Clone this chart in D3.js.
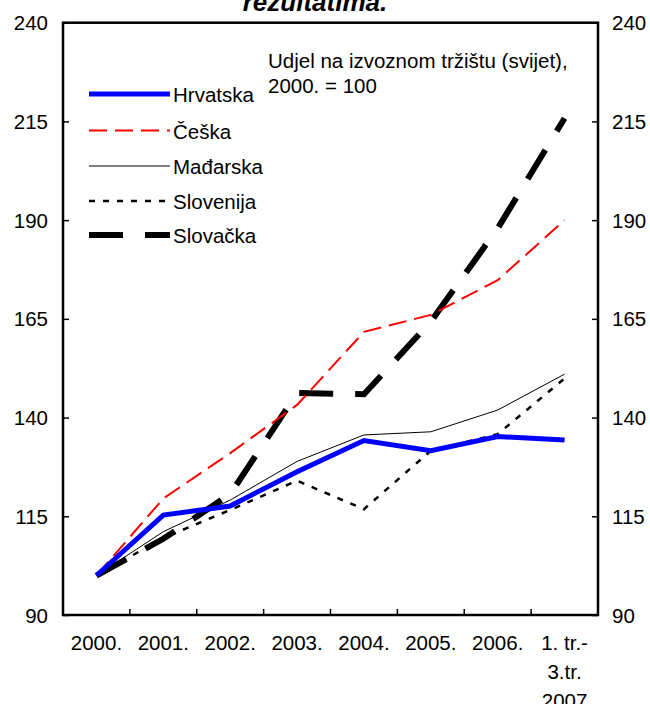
<!DOCTYPE html>
<html><head><meta charset="utf-8">
<script src="https://cdn.jsdelivr.net/npm/d3@7"></script>
<style>
body{margin:0;background:#fff;}
svg{display:block;font-family:"Liberation Sans",Arial,sans-serif;}
</style></head>
<body><svg id="c" width="650" height="704"></svg>
<script>
const categories = ["2000.", "2001.", "2002.", "2003.", "2004.", "2005.", "2006.", "1. tr.-|3.tr.|2007"];
const hrvatska  = [100, 115.3, 117.6, 126.3, 134.2, 131.6, 135.2, 134.3];
const ceska     = [100, 119.5, 131.0, 143.2, 161.7, 166.0, 174.8, 190.0];
const madarska  = [100, 111.1, 119.1, 128.9, 135.6, 136.4, 141.9, 151.0];
const slovenija = [100, 109.5, 116.6, 124.0, 116.8, 131.6, 135.8, 149.9];
const slovacka  = [100, 109.3, 120.6, 146.2, 145.9, 164.3, 187.9, 215.8];
const yTicks = [90, 115, 140, 165, 190, 215, 240];
const seriesNames = ["Hrvatska", "Češka", "Mađarska", "Slovenija", "Slovačka"];
const titleText = "rezultatima.";
const noteLines = ["Udjel na izvoznom tržištu (svijet),", "2000. = 100"];

const series = [
  {name: seriesNames[0], values: hrvatska, color: "#0000ff", width: 5, dash: null},
  {name: seriesNames[1], values: ceska, color: "#ff0000", width: 2, dash: "18,8"},
  {name: seriesNames[2], values: madarska, color: "#000", width: 1, dash: null},
  {name: seriesNames[3], values: slovenija, color: "#000", width: 2.5, dash: "6,8"},
  {name: seriesNames[4], values: slovacka, color: "#000", width: 6, dash: "34,22"}
];

const svg = d3.select("#c");
const L = 63, R = 598, T = 22.7, B = 615;
const x = d3.scaleBand().domain(categories).range([L, R]);
const y = d3.scaleLinear().domain([90, 240]).range([B, T]);
const fs = 20.5;

// title (cut off at top)
svg.append("text").attr("x", 315).attr("y", 11).attr("text-anchor", "middle")
  .attr("font-size", 26).attr("font-weight", "bold").attr("font-style", "italic").text(titleText);

// lines
const line = d3.line().x((d, i) => x(categories[i]) + x.bandwidth() / 2).y(d => y(d));
const order = [3, 2, 4, 1, 0];
order.forEach(k => {
  const s = series[k];
  svg.append("path").datum(s.values).attr("d", line).attr("fill", "none")
    .attr("stroke", s.color).attr("stroke-width", s.width)
    .attr("stroke-dasharray", s.dash).attr("stroke-linejoin", "miter");
});

// axes
const gl = svg.append("g").attr("transform", `translate(${L},0)`)
  .call(d3.axisRight(y).tickValues(yTicks).tickSize(6).tickFormat(""));
const gr = svg.append("g").attr("transform", `translate(${R},0)`)
  .call(d3.axisLeft(y).tickValues(yTicks).tickSize(6).tickFormat(""));
const gb = svg.append("g").attr("transform", `translate(0,${B})`)
  .call(d3.axisTop(x).tickSize(6).tickFormat(""));
gb.selectAll(".tick").remove();
const bounds = categories.slice(1).map(c => x(c));
gb.selectAll("line.bt").data(bounds).enter().append("line")
  .attr("x1", d => d).attr("x2", d => d).attr("y1", 0).attr("y2", -6)
  .attr("stroke", "#000").attr("stroke-width", 1.5);
[gl, gr, gb].forEach(g => { g.select(".domain").remove(); g.selectAll("line").attr("stroke", "#000").attr("stroke-width", 1.5); });

svg.append("rect").attr("x", L).attr("y", T).attr("width", R - L).attr("height", B - T)
  .attr("fill", "none").attr("stroke", "#000").attr("stroke-width", 2.5);

// y labels
svg.selectAll("text.yl").data(yTicks).enter().append("text")
  .attr("x", 48).attr("y", d => y(d) + 7.5).attr("text-anchor", "end").attr("font-size", fs).text(d => d);
svg.selectAll("text.yr").data(yTicks).enter().append("text")
  .attr("x", 612).attr("y", d => y(d) + 7.5).attr("text-anchor", "start").attr("font-size", fs).text(d => d);

// x labels
categories.forEach(c => {
  const parts = c.split("|");
  const cx = x(c) + x.bandwidth() / 2;
  const t = svg.append("text").attr("x", cx).attr("y", 650)
    .attr("text-anchor", "middle").attr("font-size", fs);
  parts.forEach((p, i) => t.append("tspan").attr("x", cx).attr("dy", i ? 29 : 0).text(p));
});

// note
noteLines.forEach((t, i) => svg.append("text").attr("x", 268).attr("y", 68 + i * 25).attr("font-size", fs).text(t));

// legend
const legY = [94, 130.5, 166, 201, 235];
series.forEach((s, i) => {
  svg.append("line").attr("x1", 89).attr("x2", 170).attr("y1", legY[i]).attr("y2", legY[i])
    .attr("stroke", s.color).attr("stroke-width", s.width).attr("stroke-dasharray", s.dash);
  svg.append("text").attr("x", 173).attr("y", legY[i] + 8).attr("font-size", fs).text(s.name);
});
</script></body></html>
